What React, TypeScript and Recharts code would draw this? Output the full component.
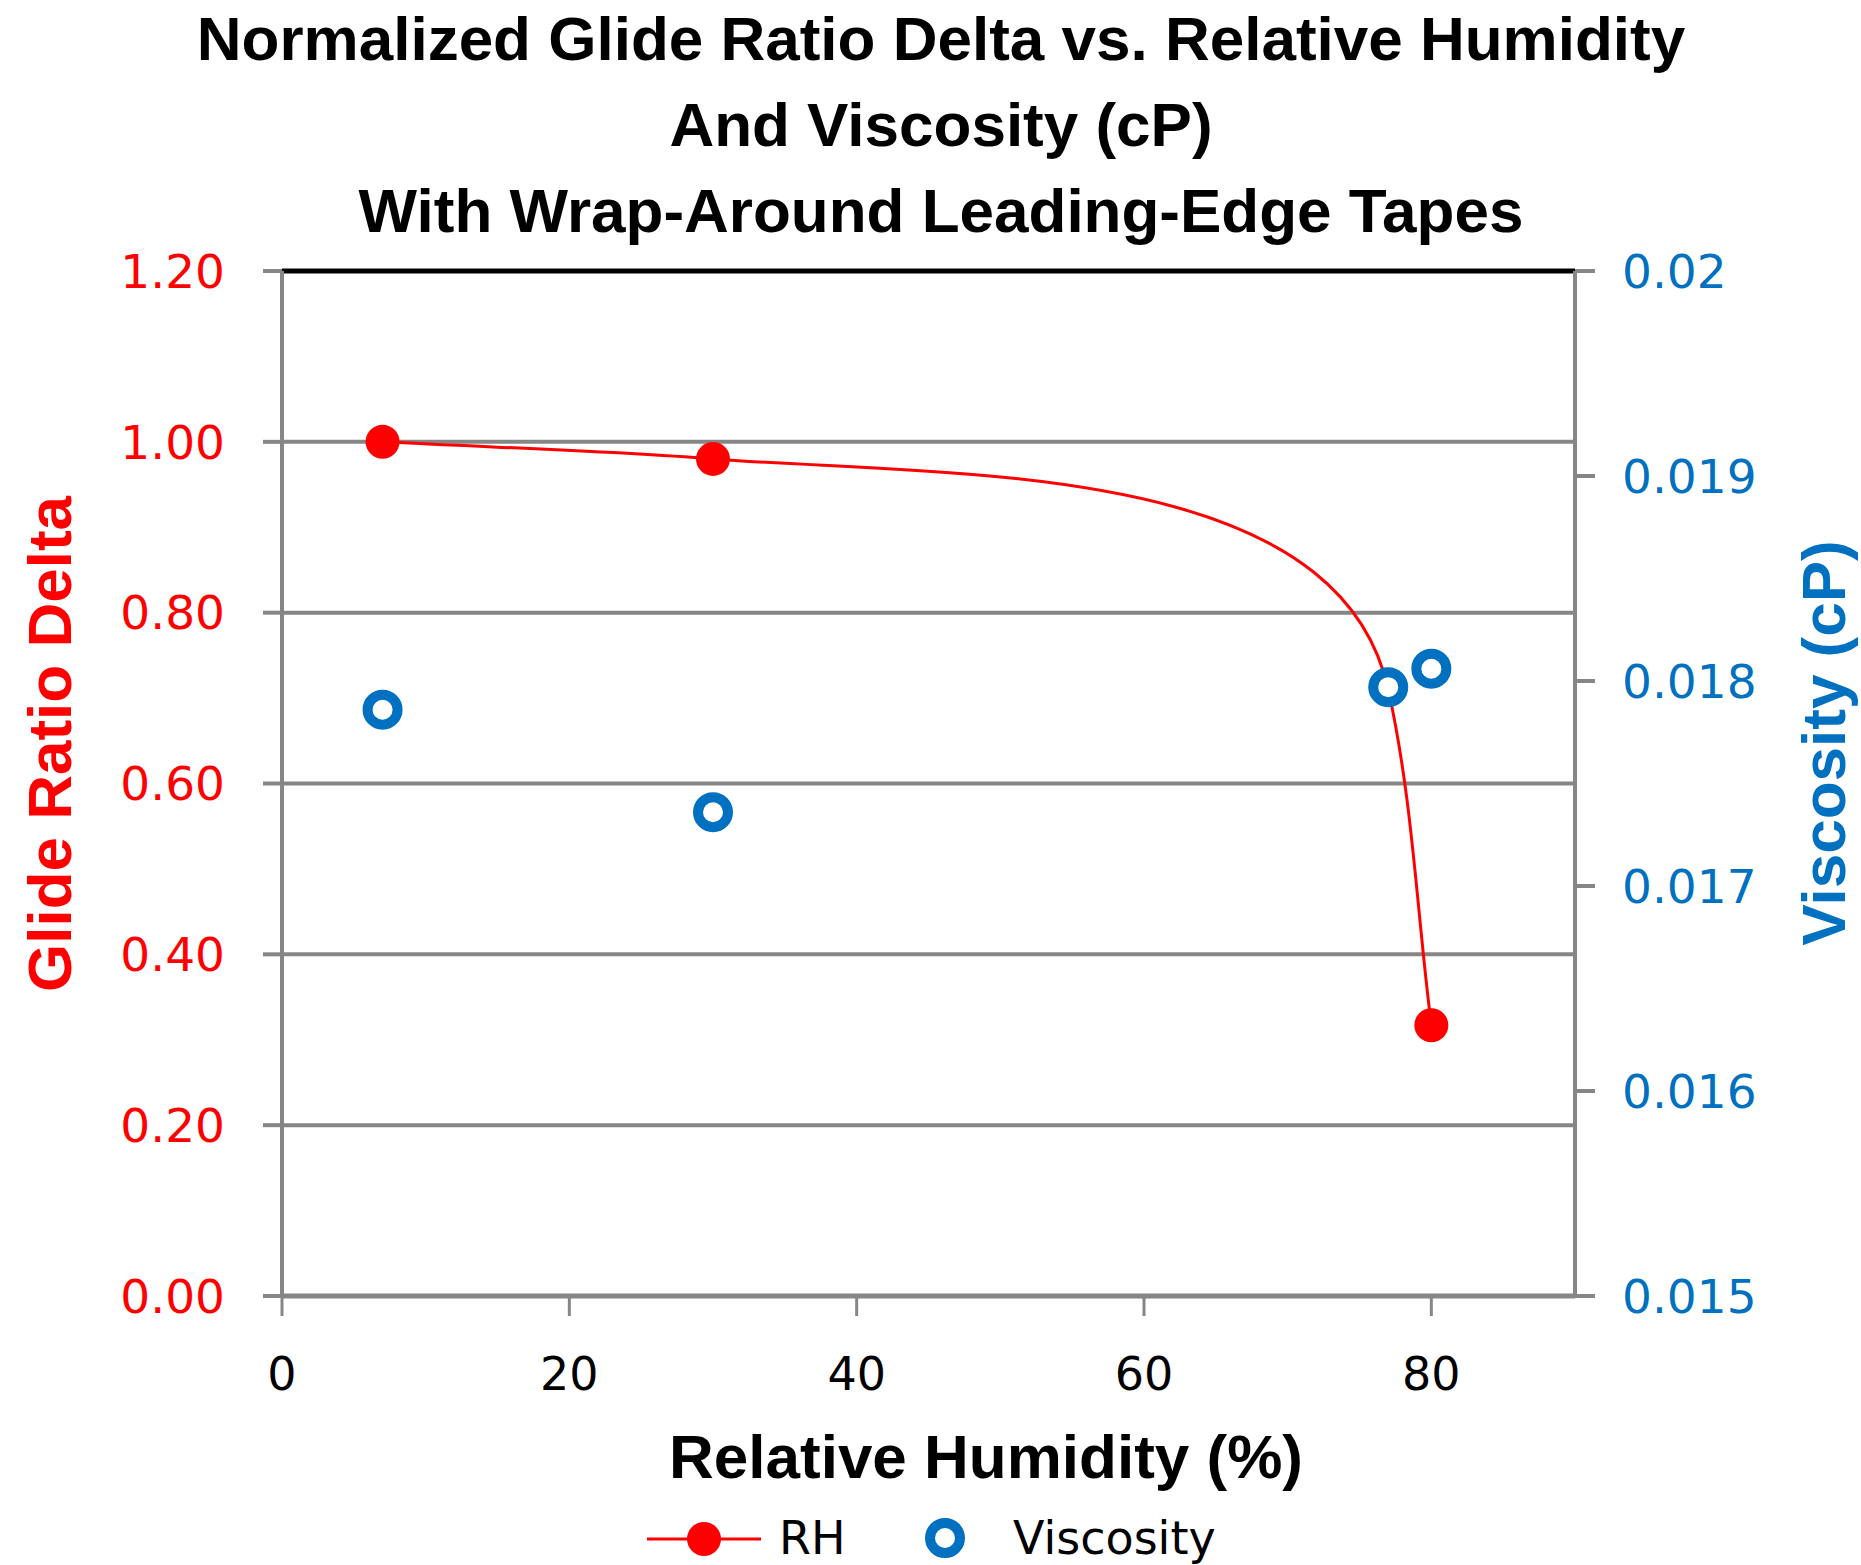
import {
  ComposedChart,
  Line,
  Scatter,
  XAxis,
  YAxis,
  CartesianGrid,
  ReferenceLine,
} from "recharts";

// RH series (left axis)
const rhHumidity = [7, 30, 77, 80];
const glideDelta = [1.0, 0.98, 0.71, 0.317];

// Viscosity series (right axis)
const viscHumidity = [7, 30, 77, 80];
const viscosity = [0.01786, 0.01736, 0.01797, 0.01806];

const xTicks = [0, 20, 40, 60, 80];
const leftTicks = [0, 0.2, 0.4, 0.6, 0.8, 1.0, 1.2];
const rightTicks = [0.015, 0.016, 0.017, 0.018, 0.019, 0.02];

const rhData = rhHumidity.map((x, i) => ({ x, y: glideDelta[i] }));
const viscData = viscHumidity.map((x, i) => ({ x, y: viscosity[i] }));

const RED = "#FF0000";
const BLUE = "#0070C0";
const GRAY = "#868686";

// smoothed line like the spreadsheet one: tangents lean toward the shorter neighbour segment
const smoothCurve = (context: any) => {
  let pts: number[][] = [];
  return {
    areaStart() {},
    areaEnd() {},
    lineStart() {
      pts = [];
    },
    point(x: number, y: number) {
      pts.push([+x, +y]);
    },
    lineEnd() {
      const n = pts.length;
      if (!n) return;
      context.moveTo(pts[0][0], pts[0][1]);
      if (n === 1) return;
      const seg = (i: number) => {
        const dx = pts[i + 1][0] - pts[i][0];
        const dy = pts[i + 1][1] - pts[i][1];
        return [dx, dy, Math.hypot(dx, dy) || 1];
      };
      const tan = (i: number) => {
        let tx = 0;
        let ty = 0;
        for (const k of [i - 1, i]) {
          if (k < 0 || k > n - 2) continue;
          const [dx, dy, len] = seg(k);
          const w = 1 / Math.pow(len, 4);
          tx += dx * w;
          ty += dy * w;
        }
        const l = Math.hypot(tx, ty) || 1;
        return [tx / l, ty / l];
      };
      for (let i = 0; i < n - 1; i++) {
        const [, , len] = seg(i);
        const h = len / 3;
        const t0 = tan(i);
        const t1 = tan(i + 1);
        const p0 = pts[i];
        const p1 = pts[i + 1];
        context.bezierCurveTo(
          p0[0] + t0[0] * h,
          p0[1] + t0[1] * h,
          p1[0] - t1[0] * h,
          p1[1] - t1[1] * h,
          p1[0],
          p1[1]
        );
      }
    },
  };
};

const tickFont = { fontFamily: "'DejaVu Sans', Verdana, sans-serif", fontSize: 47 };

export default function App() {
  return (
    <div style={{ position: "absolute", left: 0, top: 0, width: 1861, height: 1565, background: "#fff" }}>
      <ComposedChart width={1861} height={1565} margin={{ top: 271, right: 0, bottom: 0, left: 0 }}>
        <CartesianGrid yAxisId="left" vertical={false} stroke={GRAY} strokeWidth={4} />
        <XAxis
          type="number"
          dataKey="x"
          domain={[0, 90]}
          ticks={xTicks}
          height={269}
          tickSize={20}
          tickMargin={41}
          axisLine={{ stroke: GRAY, strokeWidth: 5 }}
          tickLine={{ stroke: GRAY, strokeWidth: 3 }}
          tick={{ ...tickFont, fontSize: 46, fill: "#000" }}
        />
        <YAxis
          yAxisId="left"
          orientation="left"
          domain={[0, 1.2]}
          ticks={leftTicks}
          width={282}
          tickSize={19}
          tickMargin={38}
          tickFormatter={(v: number) => v.toFixed(2)}
          axisLine={{ stroke: GRAY, strokeWidth: 4 }}
          tickLine={{ stroke: GRAY, strokeWidth: 4 }}
          tick={{ ...tickFont, fill: RED }}
        />
        <YAxis
          yAxisId="right"
          orientation="right"
          domain={[0.015, 0.02]}
          ticks={rightTicks}
          width={286}
          tickSize={20}
          tickMargin={27}
          tickFormatter={(v: number) => String(v)}
          axisLine={{ stroke: GRAY, strokeWidth: 4 }}
          tickLine={{ stroke: GRAY, strokeWidth: 4 }}
          tick={{ ...tickFont, fill: BLUE, textAnchor: "start" }}
        />
        <ReferenceLine yAxisId="left" y={1.2} stroke="#000" strokeWidth={5} />
        <Line
          yAxisId="left"
          data={rhData}
          dataKey="y"
          name="RH"
          type={smoothCurve as any}
          stroke={RED}
          strokeWidth={3}
          isAnimationActive={false}
          dot={(p: any) => <circle key={`rh-${p.index}`} cx={p.cx} cy={p.cy} r={17} fill={RED} />}
          activeDot={false}
        />
        <Scatter
          yAxisId="right"
          data={viscData}
          dataKey="y"
          name="Viscosity"
          isAnimationActive={false}
          shape={(p: any) => (
            <circle cx={p.cx} cy={p.cy} r={15} fill="#fff" stroke={BLUE} strokeWidth={10} />
          )}
        />
      </ComposedChart>

      <svg
        width={1861}
        height={1565}
        style={{ position: "absolute", left: 0, top: 0, pointerEvents: "none" }}
      >
        <g fontFamily="'Liberation Sans', Arial, sans-serif" fontWeight="bold" fontSize={62} fill="#000">
          <text x={941} y={60} textAnchor="middle">
            Normalized Glide Ratio Delta vs. Relative Humidity
          </text>
          <text x={941} y={146} textAnchor="middle">
            And Viscosity (cP)
          </text>
          <text x={941} y={232} textAnchor="middle">
            With Wrap-Around Leading-Edge Tapes
          </text>
          <text transform="translate(71,744) rotate(-90)" textAnchor="middle" fill={RED}>
            Glide Ratio Delta
          </text>
          <text transform="translate(1845,743) rotate(-90)" textAnchor="middle" fill={BLUE}>
            Viscosity (cP)
          </text>
          <text x={986} y={1478} textAnchor="middle">
            Relative Humidity (%)
          </text>
        </g>
        <g fontFamily="'DejaVu Sans', Verdana, sans-serif" fontSize={46} fill="#000">
          <line x1={647} y1={1539} x2={761} y2={1539} stroke={RED} strokeWidth={3} />
          <circle cx={704} cy={1539} r={17} fill={RED} />
          <text x={779} y={1554}>RH</text>
          <circle cx={945} cy={1538} r={15} fill="#fff" stroke={BLUE} strokeWidth={10} />
          <text x={1013} y={1554}>Viscosity</text>
        </g>
      </svg>
    </div>
  );
}
